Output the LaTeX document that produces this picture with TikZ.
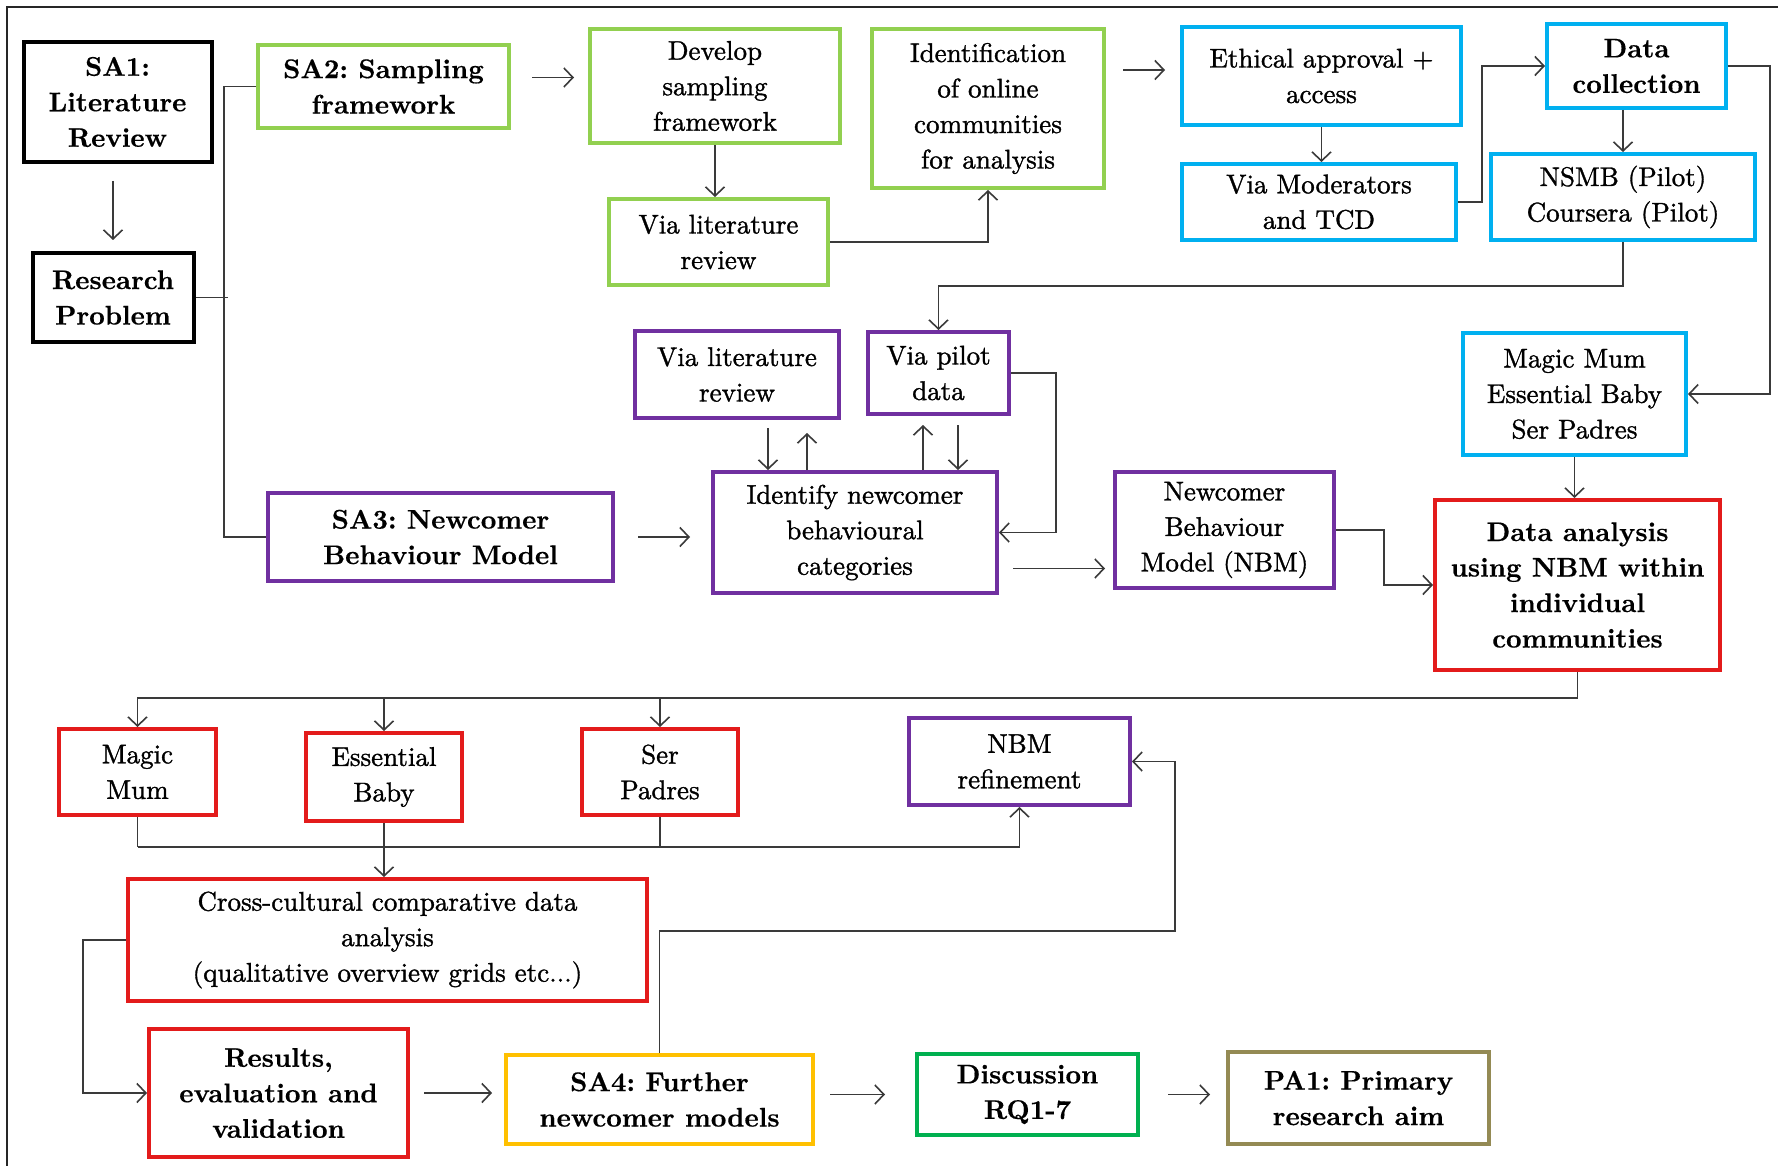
\documentclass[tikz,border=0pt]{standalone}
\usepackage{fontspec}
\setmainfont{lmroman10-regular.otf}[BoldFont=lmroman10-bold.otf, UprightFeatures={FakeBold=1.2}, BoldFeatures={FakeBold=0.4}]
\usetikzlibrary{arrows.meta,calc}
\definecolor{cgrn}{HTML}{92D050}
\definecolor{cblu}{HTML}{00B0F0}
\definecolor{cpur}{HTML}{7030A0}
\definecolor{cred}{HTML}{E31B1B}
\definecolor{cyel}{HTML}{FFC000}
\definecolor{cdgr}{HTML}{00B050}
\definecolor{colv}{HTML}{948A54}
\definecolor{conn}{HTML}{3A3A3A}
\tikzset{
  box/.style={draw=#1, line width=4pt, align=center, inner sep=0pt,
    font=\fontsize{27}{35.5}\selectfont\frenchspacing},
  bbox/.style={box=#1, font=\fontsize{27}{35.5}\selectfont\bfseries\frenchspacing},
  wire/.style={draw=conn, line width=1.6pt},
  arr/.style={wire, -{Straight Barb[length=9pt,width=19pt]}},
}
\begin{document}
\begin{tikzpicture}[x=1pt,y=-1pt]
\useasboundingbox (0,0) rectangle (1778,1166);
\fill[white] (0,0) rectangle (1778,1166);
\draw[line width=1.8pt, black!85] (1778,7) -- (7,7) -- (7,1166);

% ---- nodes ----
\node[bbox=black, minimum width=188pt, minimum height=120pt] (sa1) at (117.5,102) {SA1:\\Literature\\Review};
\node[bbox=black, minimum width=161pt, minimum height=89pt] (rp) at (113,297.5) {Research\\Problem};
\node[bbox=cgrn, minimum width=251pt, minimum height=83pt] (sa2) at (383.5,86.5) {SA2: Sampling\\framework};
\node[box=cgrn, minimum width=250pt, minimum height=114pt] (dev) at (715,86) {Develop\\sampling\\framework};
\node[box=cgrn, minimum width=219pt, minimum height=86pt] (vlg) at (718.5,242) {Via literature\\review};
\node[box=cgrn, minimum width=232pt, minimum height=159pt] (ident) at (988,108.5) {Identification\\of online\\communities\\for analysis};
\node[box=cblu, minimum width=279pt, minimum height=98pt] (eth) at (1321.5,76) {Ethical approval +\\access};
\node[box=cblu, minimum width=274pt, minimum height=76pt] (vmod) at (1319,202) {Via Moderators\\and TCD};
\node[bbox=cblu, minimum width=179pt, minimum height=84pt] (dc) at (1636.5,66) {Data\\collection};
\node[box=cblu, minimum width=264pt, minimum height=86pt] (nsmb) at (1623,197) {NSMB (Pilot)\\Coursera (Pilot)};
\node[box=cpur, minimum width=204pt, minimum height=87pt] (vlp) at (737,374.5) {Via literature\\review};
\node[box=cpur, minimum width=141pt, minimum height=82pt] (vpd) at (938.5,373) {Via pilot\\data};
\node[bbox=cpur, minimum width=345pt, minimum height=88pt] (sa3) at (440.5,537) {SA3: Newcomer\\Behaviour Model};
\node[box=cpur, minimum width=284pt, minimum height=121pt] (idn) at (855,532.5) {Identify newcomer\\behavioural\\categories};
\node[box=cpur, minimum width=219pt, minimum height=116pt] (nbm) at (1224.5,530) {Newcomer\\Behaviour\\Model (NBM)};
\node[box=cblu, minimum width=223pt, minimum height=122pt] (mmb) at (1574.5,394) {Magic Mum\\Essential Baby\\Ser Padres};
\node[bbox=cred, minimum width=285pt, minimum height=170pt] (da) at (1577.5,585) {Data analysis\\using NBM within\\individual\\communities};
\node[box=cred, minimum width=157pt, minimum height=86pt] (mm) at (137.5,772) {Magic\\Mum};
\node[box=cred, minimum width=156pt, minimum height=88pt] (eb) at (384,777) {Essential\\Baby};
\node[box=cred, minimum width=156pt, minimum height=86pt] (sp) at (660,772) {Ser\\Padres};
\node[box=cpur, minimum width=221pt, minimum height=87pt] (nbr) at (1019.5,761.5) {NBM\\refinement};
\node[box=cred, minimum width=519pt, minimum height=122pt] (cc) at (387.5,940) {Cross-cultural comparative data\\analysis\\(qualitative overview grids etc...)};
\node[bbox=cred, minimum width=259pt, minimum height=128pt] (res) at (278.5,1093) {Results,\\evaluation and\\validation};
\node[bbox=cyel, minimum width=307pt, minimum height=89pt] (sa4) at (659.5,1099.5) {SA4: Further\\newcomer models};
\node[bbox=cdgr, minimum width=221pt, minimum height=81pt] (disc) at (1027.5,1094.5) {Discussion\\RQ1-7};
\node[bbox=colv, minimum width=261pt, minimum height=92pt] (pa1) at (1358.5,1098) {PA1: Primary\\research aim};

% ---- helper coordinates ----
\coordinate (a1) at ($(sa2.east)+(0,-9)$);
\coordinate (f1) at ($(ident.east |- eth.west)+(0,-6)$);
\coordinate (d1) at ($(idn.north)+(-87,0)$);
\coordinate (u1) at ($(idn.north)+(-48,0)$);
\coordinate (u2) at ($(idn.north)+(68,0)$);
\coordinate (d2) at ($(idn.north)+(103,0)$);
\coordinate (o1) at ($(idn.east)+(0,36)$);
\coordinate (bus) at ($(da.south)+(0,26)$);
\coordinate (lb) at ($(mm.south)+(0,30)$);

% ---- connectors ----
\draw[arr, shorten <=17pt, shorten >=11pt] (sa1.south -| rp.north) -- (rp.north);
\draw[wire] (sa2.west) -- ++(-32,0) |- (sa3.west);
\draw[wire] (rp.east) -- ++(32,0);
\draw[arr, shorten <=21pt, shorten >=14pt] (a1) -- (a1 -| dev.west);
\draw[arr] (dev.south) -- (dev.south |- vlg.north);
\draw[arr] (vlg.east) -| (ident.south);
\draw[arr, shorten <=17pt, shorten >=15pt] (f1) -- (f1 -| eth.west);
\draw[arr] (eth.south) -- (eth.south |- vmod.north);
\draw[arr] (vmod.east) -- ++(24,0) |- (dc.west);
\draw[arr] (nsmb.north |- dc.south) -- (nsmb.north);
\draw[arr] (dc.east) -- ++(42,0) |- (mmb.east);
\draw[arr] (nsmb.south) -- ++(0,44) -| (vpd.north);
\draw[arr, shorten <=8pt] (d1 |- vlp.south) -- (d1);
\draw[arr, shorten >=13pt] (u1) -- (u1 |- vlp.south);
\draw[arr, shorten >=9pt] (u2) -- (u2 |- vpd.south);
\draw[arr, shorten <=9pt] (d2 |- vpd.south) -- (d2);
\draw[arr] (vpd.east) -- ++(45,0) |- (idn.east);
\draw[arr, shorten <=23pt, shorten >=21pt] (sa3.east) -- (sa3.east -| idn.west);
\draw[arr, shorten <=14pt, shorten >=8pt] (o1) -- (o1 -| nbm.west);
\draw[arr] (nbm.east) -- ++(48,0) |- (da.west);
\draw[arr] (mmb.south) -- (mmb.south |- da.north);
\draw[wire] (da.south) -- (bus);
\draw[wire, line width=2.6pt] (bus) -- (bus -| sp.north);
\draw[arr] (bus) -| (mm.north);
\draw[arr] (bus) -| (eb.north);
\draw[arr] (bus) -| (sp.north);
\draw[wire] (mm.south) -- (lb);
\draw[wire] (sp.south) -- (sp.south |- lb);
\draw[arr] (lb) -| (nbr.south);
\draw[arr] (eb.south) -- (eb.south |- cc.north);
\draw[arr] (cc.west) -- ++(-43,0) |- (res.west);
\draw[arr, shorten <=14pt, shorten >=12pt] (res.east) -- (res.east -| sa4.west);
\draw[arr] (sa4.north) -- ++(0,-122) -| ($(nbr.east)+(43,0)$) -- (nbr.east);
\draw[arr, shorten <=15pt, shorten >=30pt] (sa4.east |- disc.west) -- (disc.west);
\draw[arr, shorten <=28pt, shorten >=16pt] (disc.east) -- (disc.east -| pa1.west);
\end{tikzpicture}
\end{document}
